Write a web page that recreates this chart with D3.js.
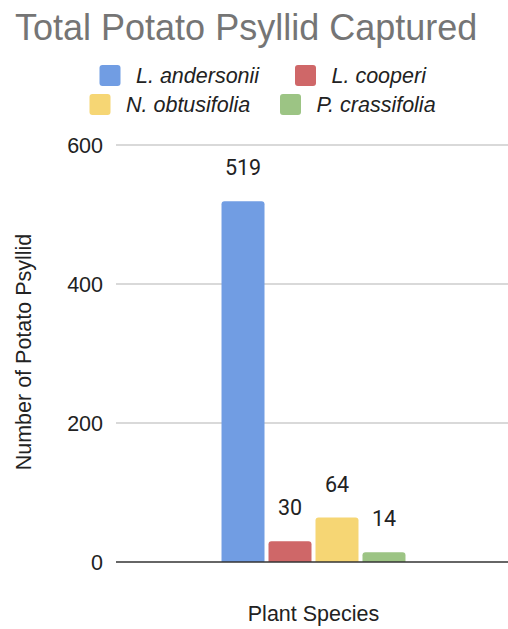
<!DOCTYPE html>
<html>
<head>
<meta charset="utf-8">
<script src="https://cdn.jsdelivr.net/npm/d3@7"></script>
<style>
  html, body { margin: 0; padding: 0; background: #ffffff; }
  svg { display: block; font-family: "Liberation Sans", Arial, sans-serif; }
</style>
</head>
<body>
<svg id="chart" width="508" height="629"></svg>
<script>
// Chart data
const categories = ["Plant Species"];
const seriesNames = ["L. andersonii", "L. cooperi", "N. obtusifolia", "P. crassifolia"];
const seriesValues = [519, 30, 64, 14];
const seriesColors = ["#719de3", "#cf6768", "#f6d674", "#9cc484"];
const yTicks = [0, 200, 400, 600];

const titleText = "Total Potato Psyllid Captured";
const yTitle = "Number of Potato Psyllid";
const xTitle = "Plant Species";

const svg = d3.select("#chart");

const plot = { left: 116, right: 511, top: 145, bottom: 562 };

const y = d3.scaleLinear().domain([0, 600]).range([plot.bottom, plot.top]);
const x0 = d3.scaleBand().domain(categories).range([plot.left, plot.right]).padding(0.3645);
const x1 = d3.scaleBand().domain(seriesNames).range([0, x0.bandwidth()]).paddingInner(0.085);

// Title
svg.append("text")
  .attr("x", 15).attr("y", 39.5)
  .attr("font-size", 36)
  .attr("fill", "#757575")
  .text(titleText);

// Legend (two rows of two)
const legendItems = [
  { name: seriesNames[0], color: seriesColors[0], sx: 99.5, row: 0 },
  { name: seriesNames[1], color: seriesColors[1], sx: 295, row: 0 },
  { name: seriesNames[2], color: seriesColors[2], sx: 89.5, row: 1 },
  { name: seriesNames[3], color: seriesColors[3], sx: 280, row: 1 }
];
const rowCenters = [75.5, 104.5];
const lg = svg.append("g");
legendItems.forEach(d => {
  const cy = rowCenters[d.row];
  lg.append("rect")
    .attr("x", d.sx).attr("y", cy - 10.5)
    .attr("width", 21).attr("height", 21)
    .attr("rx", 3).attr("ry", 3)
    .attr("fill", d.color);
  lg.append("text")
    .attr("x", d.sx + 36.5).attr("y", cy + 7.5)
    .attr("font-size", 21.5)
    .attr("font-style", "italic")
    .attr("fill", "#222")
    .text(d.name);
});

// Gridlines and y tick labels
const yAxis = d3.axisLeft(y).tickValues(yTicks).tickSize(0).tickPadding(0).tickFormat(d3.format("d"));
const ga = svg.append("g").attr("transform", `translate(${plot.left},0)`).call(yAxis);
ga.select(".domain").remove();
ga.selectAll("text")
  .attr("x", -13)
  .attr("dy", "0.36em")
  .attr("font-size", 21.5)
  .attr("font-family", "'Liberation Sans', Arial, sans-serif")
  .attr("fill", "#222");

svg.append("g").selectAll("line")
  .data(yTicks.filter(t => t !== 0))
  .join("line")
  .attr("x1", plot.left).attr("x2", plot.right)
  .attr("y1", d => y(d)).attr("y2", d => y(d))
  .attr("stroke", "#cccccc").attr("stroke-width", 1.5);

// Bars with rounded top corners
function topRounded(xp, yp, w, h, r) {
  r = Math.min(r, h, w / 2);
  return `M${xp},${yp + h}V${yp + r}Q${xp},${yp} ${xp + r},${yp}H${xp + w - r}Q${xp + w},${yp} ${xp + w},${yp + r}V${yp + h}Z`;
}

const barData = seriesNames.map((name, i) => ({ cat: categories[0], name, value: seriesValues[i], color: seriesColors[i] }));

const bars = svg.append("g");
bars.selectAll("path")
  .data(barData)
  .join("path")
  .attr("d", d => {
    const bx = x0(d.cat) + x1(d.name);
    const by = y(d.value);
    return topRounded(bx, by, x1.bandwidth(), y(0) - by, 3);
  })
  .attr("fill", d => d.color);

// Value labels
bars.selectAll("text")
  .data(barData)
  .join("text")
  .attr("x", d => x0(d.cat) + x1(d.name) + x1.bandwidth() / 2)
  .attr("y", d => y(d.value) - 26)
  .attr("text-anchor", "middle")
  .attr("font-size", 21.5)
  .attr("font-family", "Roboto, 'Liberation Sans', Arial, sans-serif")
  .attr("fill", "#222")
  .text(d => d.value);

// Baseline
svg.append("line")
  .attr("x1", plot.left).attr("x2", plot.right)
  .attr("y1", y(0)).attr("y2", y(0))
  .attr("stroke", "#333333").attr("stroke-width", 1.5);

// Axis titles
svg.append("text")
  .attr("transform", `translate(31,352) rotate(-90)`)
  .attr("text-anchor", "middle")
  .attr("font-size", 21.5)
  .attr("fill", "#222")
  .text(yTitle);

svg.append("text")
  .attr("x", (plot.left + plot.right) / 2)
  .attr("y", 621)
  .attr("text-anchor", "middle")
  .attr("font-size", 21.5)
  .attr("fill", "#222")
  .text(xTitle);
</script>
</body>
</html>
